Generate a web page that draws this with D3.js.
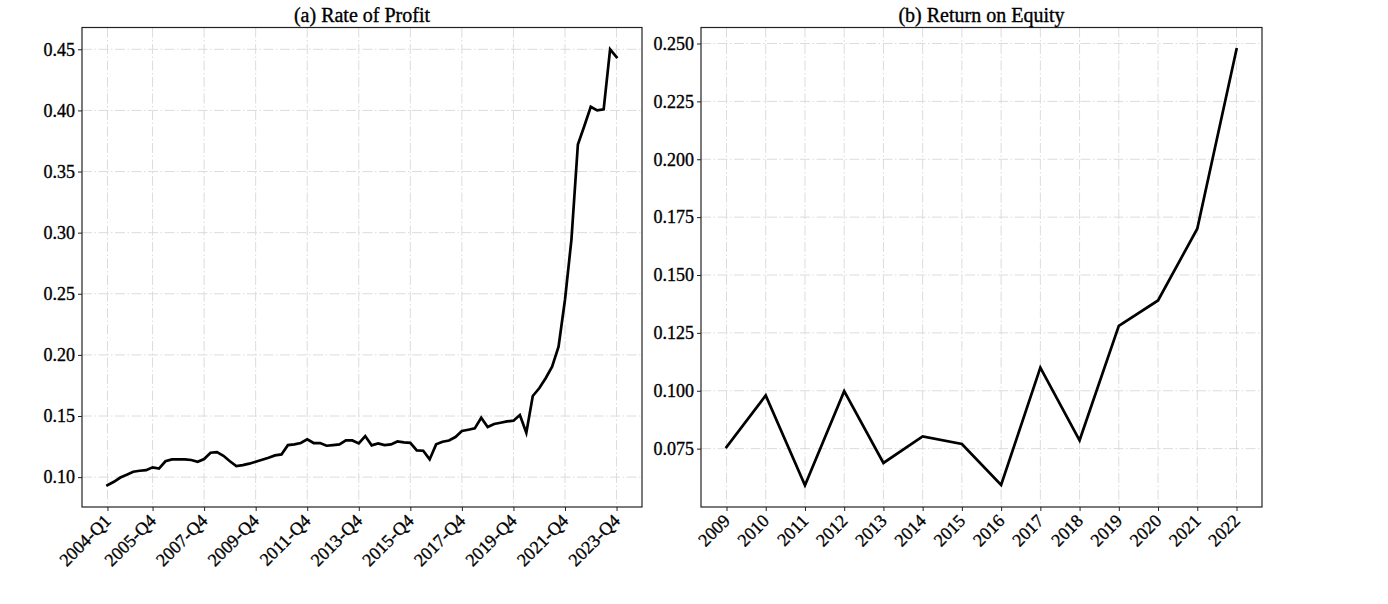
<!DOCTYPE html>
<html>
<head>
<meta charset="utf-8">
<script src="https://cdn.jsdelivr.net/npm/d3@7"></script>
<style>
  html, body { margin: 0; padding: 0; background: #fff; }
  text { font-family: "Liberation Serif", "Times New Roman", serif; fill: #000; stroke: #000; stroke-width: 0.35px; }
</style>
</head>
<body>
<svg id="chart" width="1388" height="604"></svg>
<script>
// ---- Data ----
const quarterStartYear = 2004;
const profitRate = [
  0.0934, 0.0962, 0.0997, 0.1020, 0.1044, 0.1052, 0.1057, 0.1080, 0.1070, 0.1130,
  0.1145, 0.1145, 0.1145, 0.1140, 0.1126, 0.1148, 0.1200, 0.1205, 0.1175, 0.1130,
  0.1090, 0.1098, 0.1110, 0.1126, 0.1142, 0.1158, 0.1178, 0.1186, 0.1262, 0.1268,
  0.1279, 0.1309, 0.1279, 0.1279, 0.1257, 0.1262, 0.1268, 0.1300, 0.1300, 0.1276,
  0.1336, 0.1260, 0.1276, 0.1262, 0.1268, 0.1292, 0.1284, 0.1281, 0.1219, 0.1216,
  0.1145, 0.1268, 0.1290, 0.1300, 0.1328, 0.1377, 0.1388, 0.1399, 0.1486, 0.1410,
  0.1435, 0.1445, 0.1456, 0.1462, 0.1508, 0.1363, 0.1664, 0.1727, 0.1809, 0.1904,
  0.2068, 0.2451, 0.2943, 0.3721, 0.3872, 0.4030, 0.4000, 0.4008, 0.4500, 0.4437
];
const quarterLabels = profitRate.map((_, i) =>
  (quarterStartYear + Math.floor(i / 4)) + "-Q" + (i % 4 + 1));
const profitTickLabels = ["2004-Q1", "2005-Q4", "2007-Q4", "2009-Q4", "2011-Q4",
  "2013-Q4", "2015-Q4", "2017-Q4", "2019-Q4", "2021-Q4", "2023-Q4"];
const profitYTicks = [0.10, 0.15, 0.20, 0.25, 0.30, 0.35, 0.40, 0.45];

const roeYears = ["2009", "2010", "2011", "2012", "2013", "2014", "2015",
  "2016", "2017", "2018", "2019", "2020", "2021", "2022"];
const roeValues = [0.0757, 0.0980, 0.0592, 0.0998, 0.0688, 0.0803, 0.0770,
  0.0593, 0.1100, 0.0786, 0.1280, 0.1390, 0.1700, 0.2475];
const roeYTicks = [0.075, 0.100, 0.125, 0.150, 0.175, 0.200, 0.225, 0.250];

const titles = ["(a) Rate of Profit", "(b) Return on Equity"];

// ---- Drawing ----
const svg = d3.select("#chart");
svg.append("rect").attr("width", 1388).attr("height", 604).attr("fill", "#fff");

function panel(opts) {
  const { x0, x1, y0, y1, cats, vals, tickCats, yTicks, yFmt, title } = opts;
  const n = vals.length;
  const pad = (n - 1) * 0.05;
  const x = d3.scaleLinear().domain([-pad, n - 1 + pad]).range([x0, x1]);
  const vmin = d3.min(vals), vmax = d3.max(vals);
  const ypad = (vmax - vmin) * 0.05;
  const y = d3.scaleLinear().domain([vmin - ypad, vmax + ypad]).range([y1, y0]);
  const tickIdx = tickCats.map(c => cats.indexOf(c));

  const g = svg.append("g");
  const dash = "10,2.5,1.5,2.5";
  // grid
  g.append("g").selectAll("line.h").data(yTicks).join("line")
    .attr("x1", x0).attr("x2", x1)
    .attr("y1", d => y(d)).attr("y2", d => y(d))
    .attr("stroke", "#dcdcdc").attr("stroke-width", 1).attr("stroke-dasharray", dash);
  g.append("g").selectAll("line.v").data(tickIdx).join("line")
    .attr("x1", d => x(d)).attr("x2", d => x(d))
    .attr("y1", y0).attr("y2", y1)
    .attr("stroke", "#dcdcdc").attr("stroke-width", 1).attr("stroke-dasharray", dash);

  // line
  const line = d3.line().x((d, i) => x(i)).y(d => y(d));
  g.append("path").datum(vals).attr("d", line)
    .attr("fill", "none").attr("stroke", "#000").attr("stroke-width", 2.7)
    .attr("stroke-linejoin", "miter").attr("stroke-linecap", "square");

  // frame
  g.append("rect").attr("x", x0).attr("y", y0).attr("width", x1 - x0).attr("height", y1 - y0)
    .attr("fill", "none").attr("stroke", "#222").attr("stroke-width", 1.2);

  // y axis
  const ya = g.append("g").attr("transform", `translate(${x0},0)`)
    .call(d3.axisLeft(y).tickValues(yTicks).tickFormat(d3.format(yFmt))
      .tickSize(4).tickSizeOuter(0).tickPadding(3));
  ya.select(".domain").remove();
  ya.selectAll("line").attr("stroke", "#222");
  ya.selectAll("text").attr("font-size", 18).attr("font-family", "Liberation Serif");

  // x axis
  const xa = g.append("g").attr("transform", `translate(0,${y1})`)
    .call(d3.axisBottom(x).tickValues(tickIdx).tickFormat(i => cats[i])
      .tickSize(4).tickSizeOuter(0));
  xa.select(".domain").remove();
  xa.selectAll("line").attr("stroke", "#222");
  xa.selectAll("text")
    .attr("font-size", 18).attr("font-family", "Liberation Serif")
    .attr("x", 0).attr("y", 0).attr("dy", null)
    .attr("text-anchor", "end")
    .attr("transform", "translate(4,15) rotate(-45)");

  // title
  g.append("text").attr("x", (x0 + x1) / 2).attr("y", y0 - 6)
    .attr("text-anchor", "middle").attr("font-size", 20).text(title);
}

panel({ x0: 82, x1: 642, y0: 27.5, y1: 507, cats: quarterLabels, vals: profitRate,
  tickCats: profitTickLabels, yTicks: profitYTicks, yFmt: ".2f", title: titles[0] });
panel({ x0: 701, x1: 1262, y0: 27.5, y1: 507, cats: roeYears, vals: roeValues,
  tickCats: roeYears, yTicks: roeYTicks, yFmt: ".3f", title: titles[1] });
</script>
</body>
</html>
